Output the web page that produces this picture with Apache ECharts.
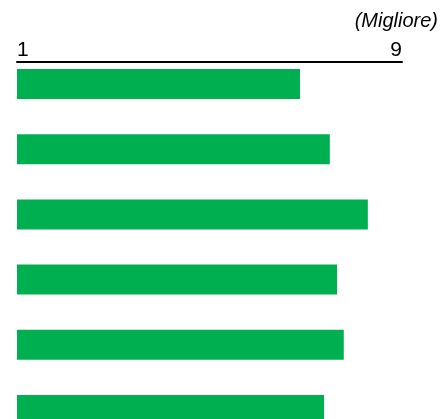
<!DOCTYPE html>
<html>
<head>
<meta charset="utf-8">
<style>
  html, body { margin: 0; padding: 0; background: #ffffff; }
  #chart { width: 441px; height: 419px; }
</style>
<script src="https://cdn.jsdelivr.net/npm/echarts@6/dist/echarts.min.js"></script>
</head>
<body>
<div id="chart"></div>
<script>
// Scores on a 1–9 scale, one bar per row (top to bottom)
const categories = ['A', 'B', 'C', 'D', 'E', 'F'];
const scores = [6.88, 7.50, 8.29, 7.65, 7.79, 7.38];
const scaleMin = 1;
const scaleMax = 9;
const bestLabel = '(Migliore)';

const chart = echarts.init(document.getElementById('chart'), null, { renderer: 'canvas' });

chart.setOption({
  animation: false,
  backgroundColor: '#ffffff',
  title: {
    text: bestLabel,
    right: 3,
    top: 11,
    padding: 0,
    textStyle: {
      fontFamily: 'Liberation Sans, Arial, sans-serif',
      fontSize: 20,
      fontStyle: 'italic',
      fontWeight: 'normal',
      color: '#000000'
    }
  },
  grid: {
    left: 17,
    right: 39,
    top: 51.5,
    height: 391,
    outerBoundsMode: 'none',
    containLabel: false
  },
  xAxis: {
    type: 'value',
    position: 'top',
    offset: -10,
    min: scaleMin,
    max: scaleMax,
    interval: 1,
    axisLine: { show: true, lineStyle: { color: '#000000', width: 2 } },
    axisTick: { show: false },
    splitLine: { show: false },
    axisLabel: {
      margin: 1,
      color: '#000000',
      fontFamily: 'Liberation Sans, Arial, sans-serif',
      fontSize: 21,
      alignMinLabel: 'left',
      alignMaxLabel: 'right',
      formatter: function (v) {
        return (v === scaleMin || v === scaleMax) ? String(v) : '';
      }
    }
  },
  yAxis: {
    type: 'category',
    data: categories,
    inverse: true,
    axisLine: { show: false },
    axisTick: { show: false },
    axisLabel: { show: false },
    splitLine: { show: false }
  },
  series: [{
    type: 'bar',
    data: scores,
    barWidth: 30,
    itemStyle: { color: '#00AF50' },
    silent: true
  }]
});
</script>
</body>
</html>
